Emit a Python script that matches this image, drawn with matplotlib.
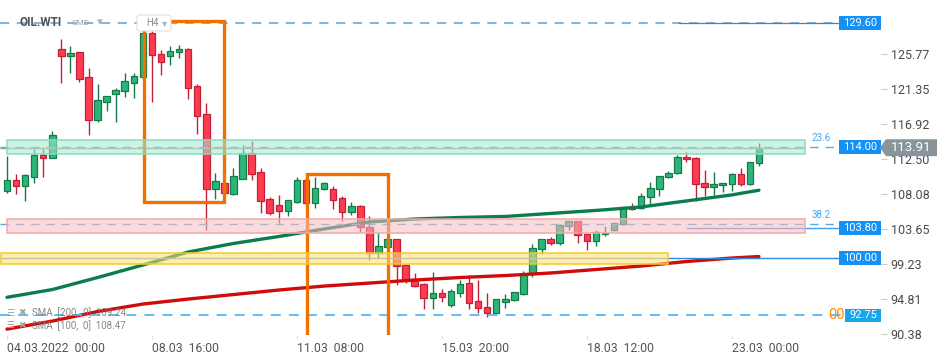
"""
OIL.WTI H4 candles with SMA 100/200, zones and price levels.
"""
import matplotlib
matplotlib.use("Agg")
import matplotlib.pyplot as plt
import matplotlib.transforms as mtransforms
from matplotlib.colors import to_rgba
from matplotlib.patches import Rectangle, Polygon, FancyBboxPatch

plt.rcParams["font.family"] = ["Roboto", "DejaVu Sans"]

# H4 candles, 04.03.2022 00:00 -> 23.03.2022 00:00
opens = [108.45, 109.80, 109.12, 110.25, 112.96, 112.65, 126.34, 125.53, 125.96, 122.80,
         117.37, 119.72, 120.73, 121.04, 122.12, 122.80, 128.36, 125.71, 125.46, 126.00,
         126.34, 121.67, 118.13, 108.74, 109.42, 108.11, 110.00, 113.28, 110.81, 107.40,
         106.64, 105.96, 107.10, 109.80, 106.89, 108.66, 108.66, 107.53, 105.83, 106.52,
         103.94, 100.58, 101.34, 102.35, 99.14, 97.30, 96.67, 94.90, 95.53, 94.02,
         95.53, 96.79, 94.52, 93.76, 93.01, 94.39, 94.65, 95.41, 97.93, 101.09,
         102.35, 101.84, 103.99, 104.62, 102.98, 102.10, 102.98, 103.49, 104.24, 106.39,
         106.26, 107.65, 108.66, 110.18, 110.68, 112.70, 112.58, 109.42, 108.92, 109.17,
         109.29, 110.56, 109.29, 111.95]
highs = [112.87, 110.59, 110.56, 113.79, 113.71, 116.02, 127.64, 126.76, 126.00, 123.94,
         121.96, 120.41, 121.42, 123.31, 123.31, 128.78, 128.70, 126.21, 126.76, 126.92,
         126.50, 121.96, 119.56, 110.72, 109.50, 111.35, 114.26, 114.76, 111.35, 107.65,
         107.94, 107.30, 110.18, 109.90, 110.18, 109.55, 109.04, 107.78, 107.02, 106.70,
         105.25, 103.11, 102.40, 102.40, 99.20, 98.06, 96.79, 98.18, 96.04, 96.04,
         97.17, 97.80, 97.17, 95.53, 94.80, 95.41, 95.70, 98.35, 101.72, 102.40,
         102.60, 104.24, 104.70, 104.70, 103.00, 103.52, 103.99, 104.40, 106.40, 106.89,
         108.16, 109.55, 110.40, 110.94, 112.96, 113.33, 112.70, 111.06, 110.81, 109.50,
         110.68, 111.31, 112.10, 114.47]
lows = [108.23, 108.07, 107.22, 109.42, 110.25, 112.60, 122.12, 123.38, 122.21, 115.52,
        117.20, 118.59, 117.20, 120.35, 120.23, 122.60, 119.72, 123.13, 124.39, 125.28,
        120.10, 115.61, 103.52, 107.44, 108.10, 108.00, 109.90, 109.87, 105.71, 105.46,
        104.45, 105.33, 106.89, 106.90, 106.34, 108.60, 106.21, 104.70, 105.46, 103.31,
        99.74, 99.95, 101.30, 96.58, 96.87, 96.36, 93.51, 93.51, 94.47, 93.76,
        95.03, 93.51, 93.01, 92.58, 92.95, 93.64, 94.60, 95.35, 97.63, 100.46,
        101.59, 101.59, 103.49, 101.84, 100.96, 101.47, 102.73, 103.40, 104.20, 106.01,
        106.20, 106.64, 107.78, 110.10, 110.60, 112.07, 107.15, 107.78, 107.91, 108.28,
        108.41, 109.04, 109.20, 111.57]
closes = [109.80, 109.12, 110.43, 112.96, 112.65, 115.48, 125.53, 125.83, 122.63, 117.37,
          119.90, 120.41, 121.16, 122.30, 122.93, 128.40, 125.58, 124.77, 126.09, 126.34,
          121.49, 117.96, 108.74, 109.67, 108.23, 110.30, 113.28, 110.63, 107.22, 105.71,
          105.96, 107.27, 109.80, 106.97, 108.79, 109.42, 107.35, 105.83, 106.52, 103.94,
          100.66, 101.47, 102.35, 99.02, 97.30, 96.49, 94.90, 95.53, 95.03, 95.78,
          96.67, 94.27, 93.64, 93.01, 94.77, 94.77, 95.66, 97.93, 101.21, 102.35,
          101.84, 104.12, 104.62, 102.85, 102.10, 103.23, 103.11, 104.37, 106.39, 106.14,
          107.78, 108.79, 110.30, 110.68, 112.70, 112.45, 109.29, 108.92, 109.29, 109.42,
          110.56, 109.29, 112.07, 113.91]

# moving averages read at every 5th candle
sma_idx = [0, 5, 10, 15, 20, 25, 30, 35, 40, 45, 50, 55, 60, 65, 70, 75, 80, 83]
sma200 = [95.02, 96.00, 97.52, 99.10, 100.74, 101.82, 102.70, 103.65, 104.53, 104.91,
          105.10, 105.23, 105.61, 105.99, 106.43, 107.19, 107.95, 108.54]
sma100 = [91.01, 92.02, 93.22, 94.17, 94.80, 95.37, 95.94, 96.44, 96.82, 97.20,
          97.52, 97.77, 98.09, 98.53, 98.97, 99.54, 99.98, 100.17]

x_ticks = [0, 16, 32, 48, 64, 80]
x_labels = ["04.03.2022  00:00", "08.03  16:00", "11.03  08:00",
            "15.03  20:00", "18.03  12:00", "23.03  00:00"]
y_ticks = [125.77, 121.35, 116.92, 112.50, 108.08, 103.65, 99.23, 94.81, 90.38]

last_price = 113.91
fib_labels = ["23.6", "38.2"]
fib_prices = [114.00, 104.25]
zone_green = (113.17, 114.90)
zone_pink = (103.18, 104.88)
zone_yellow = (99.19, 100.58)
box1 = (15.1, 24.0, 107.0, 129.88)   # x0, x1, y0, y1
box2 = (33.06, 42.05, 85.0, 110.60)

W, H = 950, 360
fig = plt.figure(figsize=(W / 100, H / 100), dpi=100)
ax = fig.add_axes([0, 25.3 / H, 881 / W, 334.7 / H])
ax.set_xlim(-0.77, 96.47)
ax.set_ylim(90.30, 132.56)
for s in ax.spines.values():
    s.set_visible(False)

GREEN, GREEN_EDGE = "#2bb57a", "#157a48"
RED, RED_EDGE = "#ff3b4f", "#c2203a"
BLUE = "#1590f5"
ORANGE = "#f07000"

# candles
for i, (o, h, l, c) in enumerate(zip(opens, highs, lows, closes)):
    up = c >= o
    edge = GREEN_EDGE if up else RED_EDGE
    ax.vlines(i, l, h, color=edge, lw=1.0, zorder=2)
    body = max(abs(c - o), 0.22)
    ax.add_patch(Rectangle((i - 0.36, min(o, c)), 0.72, body,
                           fc=GREEN if up else RED, ec=edge, lw=0.9, zorder=2.1))

# SMAs
ax.plot(sma_idx, sma200, color="#0b7d4c", lw=2.4, solid_capstyle="round", zorder=2.5)
ax.plot(sma_idx, sma100, color="#d10a0a", lw=2.4, solid_capstyle="round", zorder=2.5)

# level lines
dash = (0, (6, 5))
ax.hlines(129.60, -0.77, 91.8, color="#5aa2d6", lw=1.1, linestyles=[dash], zorder=3)
ax.hlines(129.60, 74.06, 91.8, color="#3d85c8", lw=0.9, zorder=3)
for p in fib_prices:
    ax.hlines(p, -0.77, 91.8, color="#5aa9dc", lw=1.0, linestyles=[dash], zorder=3)
ax.hlines(last_price, -0.77, 88.1, color="#9aa5a8", lw=1.0, zorder=3)
ax.hlines(103.80, 74.9, 91.8, color="#4c9be8", lw=1.0, zorder=3)
ax.hlines(100.00, 72.96, 91.8, color="#2e8be0", lw=1.0, zorder=3)
ax.hlines(99.93, -0.77, 72.96, color="#8fa3a5", lw=1.0, zorder=3)
ax.hlines(92.75, -0.77, 92.5, color="#55b8ee", lw=1.3, linestyles=[(0, (5.5, 4.5))], zorder=3)

# orange boxes
for x0, x1, y0, y1 in (box1, box2):
    ax.add_patch(Rectangle((x0, y0), x1 - x0, y1 - y0, fill=False,
                           ec=ORANGE, lw=2.4, zorder=4))

# zones on top, semi transparent
zones = [(zone_green, 0.0, 88.1, "#a6e8cd", "#8adbbd"),
         (zone_pink, 0.0, 88.1, "#f8bcc0", "#f2a7ab"),
         (zone_yellow, -0.7, 72.96, "#fde07a", "#f5c924")]
for (lo, hi), x0, x1, fc, ec in zones:
    ax.add_patch(Rectangle((x0, lo), x1 - x0, hi - lo, fc=to_rgba(fc, 0.55),
                           ec=to_rgba(ec, 0.9), lw=1.2, zorder=5))

for lab, p in zip(fib_labels, fib_prices):
    ax.text(88.8, p + 0.55, lab, color="#3fa9f5", fontsize=7, va="bottom", zorder=6)
ax.text(90.6, 92.75, "00", color="#ff8c00", fontsize=10.5, va="center", zorder=6)

# price tags (x in axes fraction, y in price)
tr = mtransforms.blended_transform_factory(ax.transAxes, ax.transData)
tag_h = 1.78
for p in [129.60, 114.00, 103.80, 100.00]:
    ax.add_patch(Rectangle((839 / 881, p - tag_h / 2), 42 / 881, tag_h, fc=BLUE,
                           ec="none", transform=tr, zorder=7))
    ax.text(860 / 881, p, f"{p:.2f}", color="white", fontsize=8, ha="center",
            va="center", transform=tr, zorder=8)
ax.add_patch(Rectangle((845 / 881, 92.75 - 0.85), 36 / 881, 1.7, fc="#19a5ec",
                       ec="none", transform=tr, zorder=7))
ax.text(863 / 881, 92.75, "92.75", color="white", fontsize=8, ha="center",
        va="center", transform=tr, zorder=8)

# last price tag, outside the axes
trf = mtransforms.blended_transform_factory(fig.transFigure, ax.transData)
hh = 1.07
ax.add_patch(Polygon([(880 / W, last_price), (886 / W, last_price + hh),
                      (937 / W, last_price + hh), (937 / W, last_price - hh),
                      (886 / W, last_price - hh)], closed=True, fc="#89939a",
                     ec="none", transform=trf, zorder=9, clip_on=False))
ax.text(911 / W, last_price, f"{last_price:.2f}", color="white", fontsize=9.5,
        ha="center", va="center", transform=trf, zorder=10, clip_on=False)

# axes ticks
ax.set_xticks(x_ticks)
ax.set_xticklabels(x_labels, ha="left", color="#555555", fontsize=8.8)
ax.tick_params(axis="x", length=3, width=0.8, color="#dddddd", pad=2)
ax.yaxis.tick_right()
ax.set_yticks(y_ticks)
ax.set_yticklabels([f"{v:.2f}" for v in y_ticks], color="#4a4a4a", fontsize=9)
ax.tick_params(axis="y", length=4, width=0.8, color="#cccccc", pad=3)

# header
fig.text(20 / W, 1 - 22 / H, "OIL.WTI", color="#505050", fontsize=8.5,
         fontweight="bold", va="center")
fig.text(72 / W, 1 - 23 / H, "CMD", color="#90a0b0", fontsize=6, va="center")
fig.text(97 / W, 1 - 22 / H, "▾", color="#a8b0b8", fontsize=8, va="center")
fig.patches.append(FancyBboxPatch((137 / W, 1 - 31 / H), 34 / W, 16 / H,
                                  boxstyle="round,pad=0,rounding_size=0.005",
                                  fc="white", ec="#e0e0e0", lw=0.8,
                                  transform=fig.transFigure, zorder=0.5))
fig.text(146 / W, 1 - 23 / H, "H4", color="#8a8a8a", fontsize=7, va="center")
fig.text(162 / W, 1 - 23 / H, "▾", color="#a8b0b8", fontsize=7.5, va="center")

# SMA legend
for y, lab in [(313, "SMA  [200,  0]  109.24"), (326, "SMA  [100,  0]  108.47")]:
    fig.text(6 / W, 1 - y / H, "☰", color="#a0a0a0", fontsize=6.5, va="center")
    fig.text(18 / W, 1 - y / H, "✖", color="#a0a0a0", fontsize=6.5, va="center")
    fig.text(32 / W, 1 - y / H, lab, color="#7a7a7a", fontsize=7, va="center", alpha=0.9)

fig.savefig("out.png", dpi=100, facecolor="white")
